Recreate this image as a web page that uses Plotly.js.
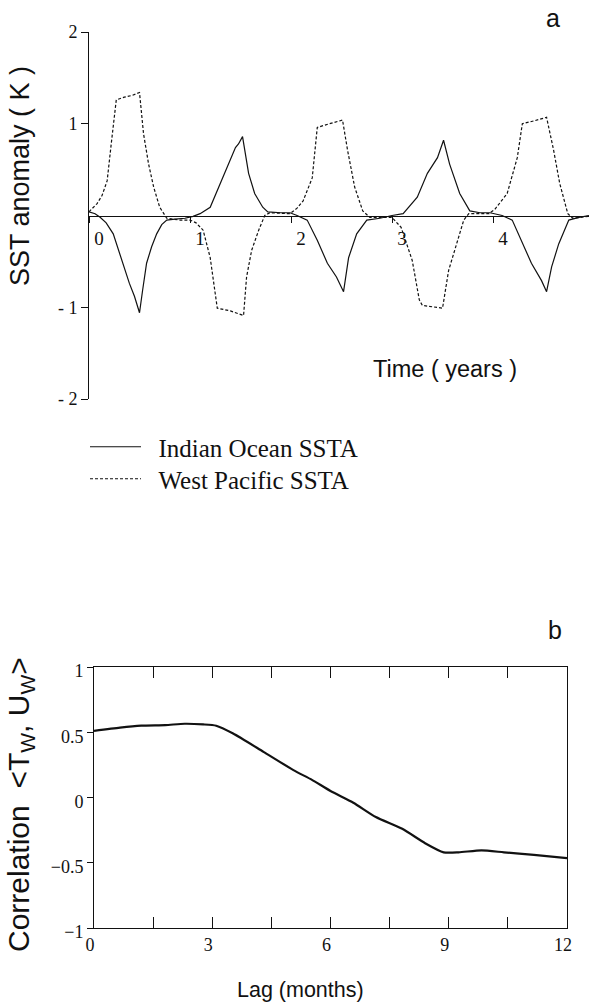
<!DOCTYPE html>
<html>
<head>
<meta charset="utf-8">
<script src="https://cdn.plot.ly/plotly-3.0.1.min.js"></script>
<style>html,body{margin:0;padding:0;background:#fff}#chart{width:589px;height:1004px}</style>
</head>
<body>
<div id="chart"></div>
<script>
// ---- Panel a: SST anomalies (K) vs time (years) ----
const ioTime = [0,0.06,0.11,0.17,0.24,0.3,0.35,0.4,0.45,0.5,0.53,0.57,0.62,0.67,0.72,0.77,0.85,0.95,1.03,1.1,1.2,1.3,1.4,1.45,1.48,1.52,1.58,1.64,1.72,1.77,1.9,1.99,2.06,2.16,2.26,2.36,2.45,2.52,2.57,2.65,2.75,2.88,3.0,3.11,3.25,3.35,3.45,3.51,3.57,3.67,3.77,3.87,3.97,4.09,4.19,4.29,4.38,4.48,4.53,4.58,4.65,4.75,4.85,4.95];
const ioSSTA = [0.04,0.02,-0.02,-0.08,-0.2,-0.4,-0.58,-0.74,-0.88,-1.06,-0.82,-0.52,-0.34,-0.2,-0.1,-0.05,-0.04,-0.03,-0.01,0.02,0.09,0.35,0.63,0.74,0.78,0.86,0.46,0.24,0.09,0.04,0.03,0.03,0.0,-0.05,-0.27,-0.52,-0.67,-0.83,-0.46,-0.2,-0.05,-0.03,0.0,0.02,0.2,0.46,0.63,0.82,0.56,0.24,0.05,0.03,0.03,0.0,-0.05,-0.3,-0.52,-0.71,-0.83,-0.56,-0.31,-0.05,-0.02,0.0];
const wpTime = [0,0.08,0.13,0.18,0.22,0.27,0.35,0.43,0.5,0.54,0.59,0.64,0.7,0.77,0.9,1.0,1.06,1.13,1.2,1.25,1.27,1.4,1.53,1.56,1.61,1.68,1.74,1.79,1.99,2.06,2.12,2.21,2.26,2.38,2.51,2.56,2.63,2.71,2.78,3.0,3.09,3.2,3.27,3.3,3.5,3.56,3.64,3.71,3.76,3.96,4.02,4.14,4.24,4.29,4.4,4.53,4.6,4.66,4.74,4.79,4.94];
const wpSSTA = [0.04,0.13,0.22,0.38,0.78,1.26,1.29,1.31,1.34,0.89,0.56,0.31,0.09,-0.03,-0.05,-0.05,-0.08,-0.16,-0.46,-0.89,-1.01,-1.04,-1.09,-0.67,-0.38,-0.16,0.0,0.03,0.02,0.08,0.16,0.41,0.96,1.0,1.04,0.71,0.31,0.05,-0.02,-0.02,-0.13,-0.49,-0.92,-0.98,-1.01,-0.6,-0.31,-0.05,0.02,0.02,0.07,0.24,0.63,1.0,1.03,1.07,0.71,0.35,0.02,-0.03,-0.01];
const aXTicks = [0,1,2,3,4];
const aXLabels = ['0','1','2','3','4'];
const aYTicks = [-2,-1,1,2];
const aYLabels = ['- 2','- 1','1','2'];

// ---- Panel b: lag correlation <Tw, Uw> ----
const lagMonths = [0,0.66,1.2,1.81,2.3,2.77,3.1,3.53,4.3,5.06,5.53,6.0,6.58,7.15,7.82,8.4,8.87,9.25,9.83,10.4,11.16,12];
const corr = [0.51,0.535,0.55,0.555,0.565,0.56,0.55,0.49,0.35,0.21,0.135,0.05,-0.04,-0.15,-0.24,-0.35,-0.42,-0.42,-0.405,-0.42,-0.44,-0.465];
const bXTicks = [0,1.5,3,4.5,6,7.5,9,10.5,12];
const bXLabels = ['0','','3','','6','','9','','12'];
const bYTicks = [-1,-0.5,0,0.5,1];
const bYLabels = ['\u22121','\u22120.5','0','0.5','1'];

const W = 589, H = 1004;
const fx = p => p / W;
const fy = p => 1 - p / H;
const INK = '#111';
const SERIF = '"Liberation Serif", "Times New Roman", serif';
const SANS = '"Liberation Sans", Arial, sans-serif';
const NB = '\u00A0\u00A0';

const aYDom = [fy(399), fy(32)];
const aXDom = [fx(89), 1];
const aMid = (aYDom[0] + aYDom[1]) / 2;
const bXDom = [fx(94), fx(567)];
const bYDom = [fy(928), fy(667)];

const traces = [
  {x: ioTime, y: ioSSTA, xaxis: 'x', yaxis: 'y', type: 'scatter', mode: 'lines', legend: 'legend',
   name: NB + 'Indian Ocean SSTA', line: {color: INK, width: 1.2}},
  {x: wpTime, y: wpSSTA, xaxis: 'x', yaxis: 'y', type: 'scatter', mode: 'lines', legend: 'legend2',
   name: NB + 'West Pacific SSTA', line: {color: INK, width: 1.2, dash: '3px,2px'}},
  {x: lagMonths, y: corr, xaxis: 'x2', yaxis: 'y2', type: 'scatter', mode: 'lines',
   name: 'corr', showlegend: false, line: {color: INK, width: 2.2, shape: 'spline', smoothing: 0.6}}
];

const common = {showgrid: false, zeroline: false, fixedrange: true, linecolor: INK, tickcolor: INK};
const legendBase = {xanchor: 'left', yanchor: 'middle', bgcolor: 'rgba(0,0,0,0)',
  font: {family: SERIF, size: 25, color: INK}, itemwidth: 51, tracegroupgap: 0};

const layout = {
  width: W, height: H,
  font: {family: SERIF, size: 18, color: INK},
  margin: {l: 0, r: 0, t: 0, b: 0},
  paper_bgcolor: '#fff', plot_bgcolor: 'rgba(0,0,0,0)',
  showlegend: true,
  legend: Object.assign({}, legendBase, {x: fx(85), y: fy(447)}),
  legend2: Object.assign({}, legendBase, {x: fx(85), y: fy(479)}),
  xaxis: Object.assign({}, common, {domain: aXDom, range: [0, 4.95], anchor: 'free', position: aMid,
    showline: true, linewidth: 1, ticks: 'outside', ticklen: 6, tickwidth: 1,
    tickmode: 'array', tickvals: aXTicks, ticktext: aXLabels, ticklabelshift: 10,
    tickfont: {family: SERIF, size: 19, color: INK}}),
  xaxis3: Object.assign({}, common, {overlaying: 'x', range: [0, 4.95], anchor: 'free', position: aMid,
    showline: false, ticks: 'inside', ticklen: 6, tickwidth: 1,
    tickmode: 'array', tickvals: aXTicks, showticklabels: false}),
  yaxis: Object.assign({}, common, {domain: aYDom, range: [-2, 2], anchor: 'x',
    showline: true, linewidth: 1, ticks: 'outside', ticklen: 7, tickwidth: 1,
    tickmode: 'array', tickvals: aYTicks, ticktext: aYLabels, tickfont: {family: SERIF, size: 18, color: INK}}),
  yaxis3: Object.assign({}, common, {overlaying: 'y', range: [-2, 2], anchor: 'x',
    showline: false, ticks: 'inside', ticklen: 9, tickwidth: 1,
    tickmode: 'array', tickvals: aYTicks, showticklabels: false}),
  xaxis2: Object.assign({}, common, {domain: bXDom, range: [0, 12], anchor: 'y2',
    showline: true, linewidth: 1, mirror: 'ticks', ticks: 'inside', ticklen: 11, tickwidth: 1,
    tickmode: 'array', tickvals: bXTicks, ticktext: bXLabels, ticklabelshift: -4, tickfont: {family: SERIF, size: 18, color: INK}}),
  yaxis2: Object.assign({}, common, {domain: bYDom, range: [-1, 1], anchor: 'x2',
    showline: true, linewidth: 1, mirror: true, ticks: 'outside', ticklen: 6, tickwidth: 1,
    tickmode: 'array', tickvals: bYTicks, ticktext: bYLabels, ticklabelshift: 4, tickfont: {family: SERIF, size: 18, color: INK}}),
  yaxis4: Object.assign({}, common, {overlaying: 'y2', range: [-1, 1], anchor: 'x2',
    showline: false, ticks: 'inside', ticklen: 6, tickwidth: 1,
    tickmode: 'array', tickvals: [-0.5, 0, 0.5], showticklabels: false}),
  annotations: [
    {text: 'a', x: fx(553), y: fy(18), xref: 'paper', yref: 'paper', showarrow: false,
     xanchor: 'center', yanchor: 'middle', font: {family: SANS, size: 25, color: INK}},
    {text: 'SST anomaly ( K )', x: fx(20), y: fy(176), xref: 'paper', yref: 'paper', showarrow: false,
     textangle: -90, xanchor: 'center', yanchor: 'middle', font: {family: SANS, size: 27, color: INK}},
    {text: 'Time ( years )', x: fx(445), y: fy(369), xref: 'paper', yref: 'paper', showarrow: false,
     xanchor: 'center', yanchor: 'middle', font: {family: SANS, size: 23.5, color: INK}},
    {text: 'b', x: fx(555), y: fy(630), xref: 'paper', yref: 'paper', showarrow: false,
     xanchor: 'center', yanchor: 'middle', font: {family: SANS, size: 25, color: INK}},
    {text: 'Correlation  &lt;T<sub>W</sub>, U<sub>W</sub>&gt;', x: fx(20), y: fy(805), xref: 'paper', yref: 'paper', showarrow: false,
     textangle: -90, xanchor: 'center', yanchor: 'middle', font: {family: SANS, size: 30, color: INK}},
    {text: 'Lag (months)', x: fx(300), y: fy(990), xref: 'paper', yref: 'paper', showarrow: false,
     xanchor: 'center', yanchor: 'middle', font: {family: SANS, size: 21.5, color: INK}}
  ]
};

Plotly.newPlot('chart', traces, layout, {staticPlot: true, displayModeBar: false});
</script>
</body>
</html>
